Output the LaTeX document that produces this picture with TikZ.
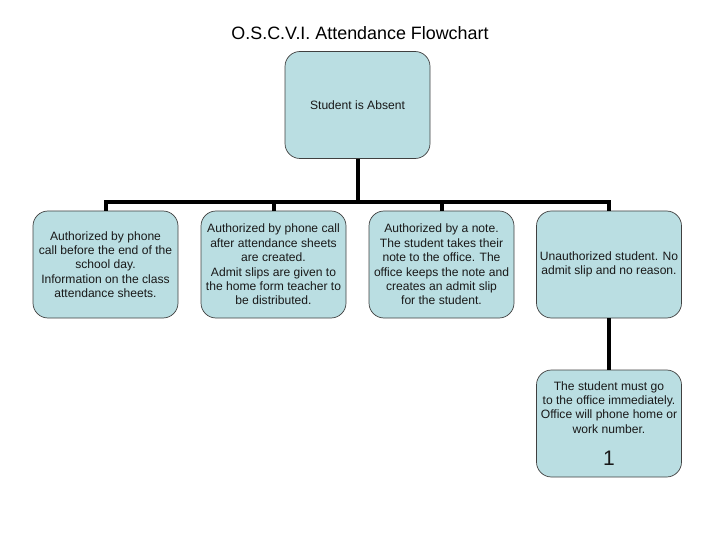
\documentclass[tikz,border=0pt]{standalone}
\usepackage{fontspec}
\setmainfont{Liberation Sans}
\begin{document}
\begin{tikzpicture}[x=1pt,y=-1pt,
  box/.style={draw=black!75, line width=0.7pt, fill=boxfill, rounded corners=15pt,
    minimum width=145pt, minimum height=107pt, inner sep=0pt, align=center,
    font=\fontsize{12.1}{14.4}\selectfont, text=black!90},
  conn/.style={line width=4pt, black, line join=miter}]
\definecolor{boxfill}{HTML}{BADEE2}
\useasboundingbox (0,0) rectangle (720,540);
\node[font=\fontsize{17.9}{21}\selectfont] (title) at (360,33) {O.S.C.V.I. Attendance Flowchart};
\node[box] (top) at (357.5,105) {Student is Absent};
\node[box] (b1) at (105.5,264.5) {Authorized by phone\\call before the end of the\\school day.\\Information on the class\\attendance sheets.};
\node[box] (b2) at (273.5,264.5) {Authorized by phone call\\after attendance sheets\\are created.\\Admit slips are given to\\the home form teacher to\\be distributed.};
\node[box] (b3) at (441.5,264.5) {Authorized by a note.\\The student takes their\\note to the office. The\\office keeps the note and\\creates an admit slip\\for the student.};
\node[box] (b4) at (609,264.5) {Unauthorized student. No\\admit slip and no reason.};
\node[box] (b5) at (609,423.5) {The student must go\\to the office immediately.\\Office will phone home or\\work number.\\[17pt]{\fontsize{21}{21}\selectfont 1}};
\coordinate (bus) at (357.5,202);
\draw[conn] (top.south) -- (bus);
\draw[conn] (b1.north) |- (bus);
\draw[conn] (b2.north) |- (bus);
\draw[conn] (b3.north) |- (bus);
\draw[conn] (b4.north) |- (bus);
\draw[conn] (b4.south) -- (b5.north);
\end{tikzpicture}
\end{document}
